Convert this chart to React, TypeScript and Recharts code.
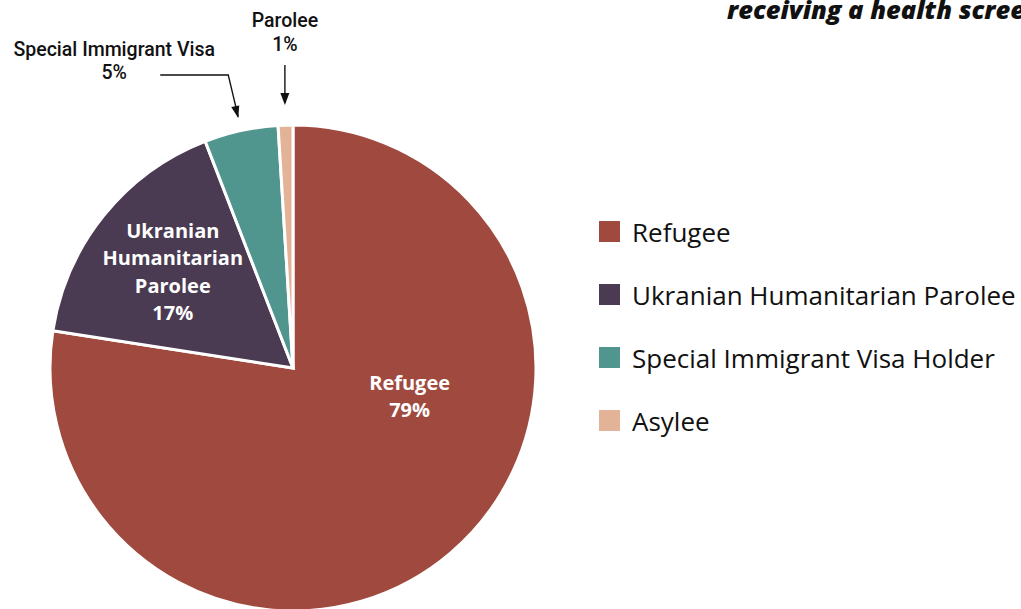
import { PieChart, Pie, Cell, Legend } from "recharts";

const categories = ["Refugee", "Ukranian Humanitarian Parolee", "Special Immigrant Visa Holder", "Asylee"];
const values = [79, 17, 5, 1];
const colors = ["#A0493F", "#4A3B52", "#51958F", "#E2B396"];
const sliceLabels = [["Refugee", "79%"], ["Ukranian", "Humanitarian", "Parolee", "17%"], [], []];
const calloutLabels = [[], [], ["Special Immigrant Visa", "5%"], ["Parolee", "1%"]];
const titleText = "receiving a health screening";

const data = categories.map((name, i) => ({ name, value: values[i] }));

const RAD = Math.PI / 180;

function renderLabel(props: any) {
  const { cx, cy, midAngle, outerRadius, index } = props;
  const inside = sliceLabels[index];
  if (inside.length) {
    let x: number, y: number;
    if (index === 0) {
      // refugee label sits off to the right of centre
      x = cx + outerRadius * 0.48;
      y = cy + outerRadius * 0.115;
    } else {
      x = cx + outerRadius * 0.635 * Math.cos(-midAngle * RAD);
      y = cy + outerRadius * 0.635 * Math.sin(-midAngle * RAD);
    }
    const lh = 27.5;
    const top = y - ((inside.length - 1) * lh) / 2;
    return (
      <text
        key={`l-${index}`}
        x={x}
        textAnchor="middle"
        fill="#fff"
        fontFamily="'Open Sans', sans-serif"
        fontWeight={700}
        fontSize={20}
      >
        {inside.map((t, j) => (
          <tspan key={j} x={x} y={top + j * lh} dominantBaseline="central">
            {t}
          </tspan>
        ))}
      </text>
    );
  }
  const call = calloutLabels[index];
  if (!call.length) return null;
  const r = outerRadius + (index === 2 ? 13 : 20);
  const tx = cx + r * Math.cos(-midAngle * RAD);
  const ty = cy + r * Math.sin(-midAngle * RAD);
  const font = { fontFamily: "Roboto, sans-serif", fontWeight: 500, fontSize: 19.5, fill: "#111" };
  if (index === 2) {
    const ex = tx - 10;
    const ey = ty - 43;
    return (
      <g key={`c-${index}`}>
        <polyline points={`${tx - 78},${ey} ${ex},${ey} ${tx},${ty - 1}`} fill="none" stroke="#111" strokeWidth={1.4} />
        <polygon points={`${tx},${ty} ${tx - 7},${ty - 11} ${tx + 1},${ty - 12.5}`} fill="#111" />
        <text x={tx - 124} y={ty - 62} textAnchor="middle" {...font}>{call[0]}</text>
        <text x={tx - 124} y={ty - 39} textAnchor="middle" {...font}>{call[1]}</text>
      </g>
    );
  }
  return (
    <g key={`c-${index}`}>
      <line x1={tx} y1={ty - 40} x2={tx} y2={ty - 2} stroke="#111" strokeWidth={1.4} />
      <polygon points={`${tx},${ty} ${tx - 4.5},${ty - 12} ${tx + 4.5},${ty - 12}`} fill="#111" />
      <text x={tx} y={ty - 78} textAnchor="middle" {...font}>{call[0]}</text>
      <text x={tx} y={ty - 54} textAnchor="middle" {...font}>{call[1]}</text>
    </g>
  );
}

function LegendList() {
  return (
    <ul style={{ listStyle: "none", margin: 0, padding: 0 }}>
      {categories.map((name, i) => (
        <li key={name} style={{ display: "flex", alignItems: "center", height: 63 }}>
          <span style={{ display: "inline-block", width: 21, height: 21, background: colors[i], marginRight: 12, flex: "none" }} />
          <span style={{ fontFamily: "'Open Sans', sans-serif", fontSize: 26, color: "#111", whiteSpace: "nowrap" }}>{name}</span>
        </li>
      ))}
    </ul>
  );
}

export default function App() {
  return (
    <div style={{ position: "absolute", left: 0, top: 0, width: 1021, height: 609, overflow: "hidden", background: "#fff" }}>
      <div
        style={{
          position: "absolute",
          left: 727,
          top: -8,
          whiteSpace: "nowrap",
          fontFamily: "'Open Sans', sans-serif",
          fontWeight: 800,
          fontStyle: "italic",
          fontSize: 25.5,
          color: "#111",
        }}
      >
        {titleText}
      </div>
      <PieChart width={1021} height={609} margin={{ top: 0, right: 0, bottom: 0, left: 0 }}>
        <Pie
          data={data}
          dataKey="value"
          nameKey="name"
          cx={293}
          cy={368}
          outerRadius={243}
          startAngle={90}
          endAngle={-270}
          stroke="#fff"
          strokeWidth={3}
          labelLine={false}
          label={renderLabel}
          isAnimationActive={false}
        >
          {data.map((d, i) => (
            <Cell key={d.name} fill={colors[i]} />
          ))}
        </Pie>
        <Legend
          layout="vertical"
          content={<LegendList />}
          wrapperStyle={{ position: "absolute", left: 599, top: 200, width: 422 }}
        />
      </PieChart>
    </div>
  );
}
